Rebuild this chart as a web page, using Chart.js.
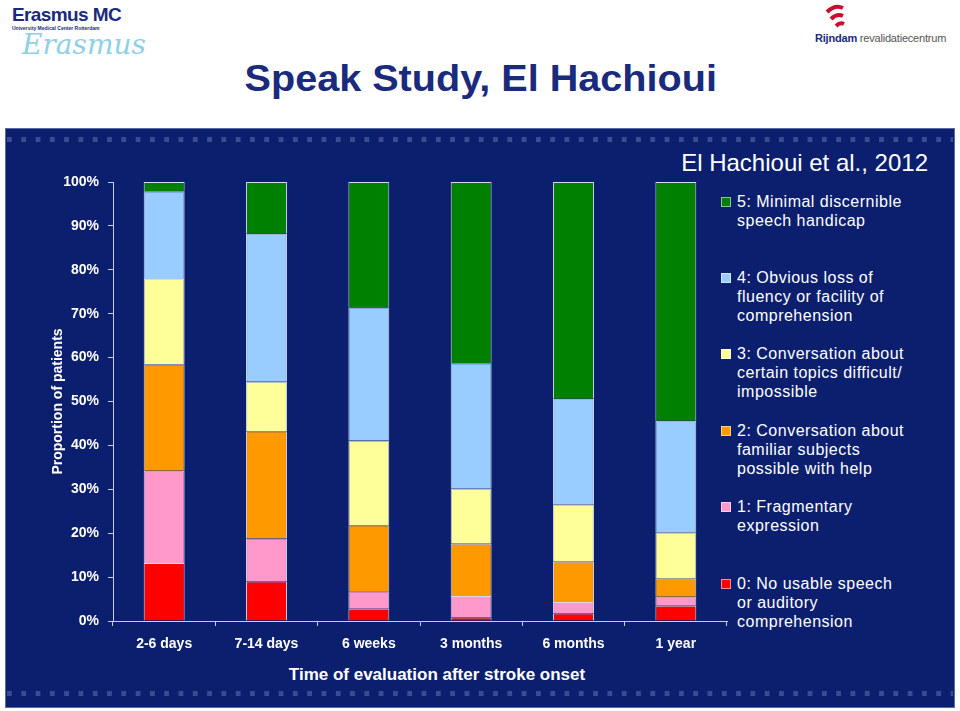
<!DOCTYPE html>
<html>
<head>
<meta charset="utf-8">
<script src="https://cdn.jsdelivr.net/npm/chart.js@4/dist/chart.umd.min.js"></script>
<style>
  body { margin: 0; width: 960px; height: 711px; background: #fff; font-family: "Liberation Sans", Arial, sans-serif; position: relative; overflow: hidden; }
  .abs { position: absolute; }
  #panel { left: 5px; top: 128px; width: 950px; height: 580px; background: #0c1f6e; border: 1px solid #5b6aa8; box-sizing: border-box; }
  .dots { left: 7px; width: 946px; height: 5px; background-image: linear-gradient(90deg, #3b4b93 5px, transparent 5px); background-size: 14.3px 5px; }
  #title { left: 0; width: 962px; top: 61px; text-align: center; font-size: 36px; line-height: 36px; font-weight: bold; color: #1a2a7c; }
  #title span { display: inline-block; transform: scaleX(1.1); }
  #cite { right: 32px; top: 149px; font-size: 24px; line-height: 28px; color: #fff; }
  #xtitle { left: 237px; width: 400px; top: 664px; text-align: center; font-size: 17px; line-height: 22px; font-weight: bold; color: #fff; }
  #legend .item { position: absolute; left: 721px; width: 230px; }
  #legend .sw { position: absolute; left: 0; top: 5px; width: 10px; height: 10px; box-sizing: border-box; border: 1px solid rgba(255,255,255,0.55); }
  #legend .txt { position: absolute; left: 16px; font-size: 16px; line-height: 19px; letter-spacing: 0.5px; color: #fff; white-space: nowrap; }
  #erasmus { left: 12px; top: 5px; color: #1a2a7c; }
  #rijndam { left: 815px; top: 2px; }
</style>
</head>
<body>
<div id="panel" class="abs"></div>
<div class="abs dots" style="top:137px"></div>
<div class="abs dots" style="top:691px"></div>

<div id="erasmus" class="abs">
  <div style="font-size:19px;font-weight:bold;letter-spacing:-0.6px;line-height:20px;">Erasmus MC</div>
  <div style="font-size:5px;font-weight:bold;line-height:6px;">University Medical Center Rotterdam</div>
  <div style="font-family:'DejaVu Serif',serif;font-style:italic;font-size:28px;line-height:28px;color:#8fd0e8;margin-left:10px;">Erasmus</div>
</div>
<div id="rijndam" class="abs">
  <svg width="40" height="28" style="position:absolute;left:6px;top:0">
    <path d="M6 10 Q14 2 22 6" stroke="#c8102e" stroke-width="4" fill="none"/>
    <path d="M10 17 Q16 11 22 14" stroke="#c8102e" stroke-width="4" fill="none"/>
    <path d="M15 24 Q19 20 23 22" stroke="#c8102e" stroke-width="4" fill="none"/>
  </svg>
  <div style="position:absolute;top:30px;white-space:nowrap;font-size:11px;letter-spacing:-0.2px;color:#1a2a7c;"><b>Rijndam</b> <span style="color:#555">revalidatiecentrum</span></div>
</div>

<div id="title" class="abs"><span>Speak Study, El Hachioui</span></div>
<div id="cite" class="abs">El Hachioui et al., 2012</div>
<div id="xtitle" class="abs">Time of evaluation after stroke onset</div>
<div id="legend" class="abs" style="left:0;top:0"></div>

<canvas id="chart" class="abs" width="960" height="711" style="left:0;top:0"></canvas>

<script>
// categories along x
const categories = ['2-6 days', '7-14 days', '6 weeks', '3 months', '6 months', '1 year'];

// percentage of patients per score (bottom to top)
const score0 = [13.2, 9.0, 2.8, 0.8, 1.7, 3.5];
const score1 = [21.0, 9.8, 4.0, 4.9, 2.6, 2.0];
const score2 = [24.3, 24.4, 15.0, 11.9, 9.2, 4.1];
const score3 = [19.4, 11.3, 19.3, 12.5, 13.1, 10.6];
const score4 = [20.0, 33.7, 30.3, 28.6, 24.0, 25.4];
const score5 = [2.1, 11.8, 28.6, 41.3, 49.4, 54.4];

const seriesLabels = [
    ['0: No usable speech', 'or auditory', 'comprehension'],
    ['1: Fragmentary', 'expression'],
    ['2: Conversation about', 'familiar subjects', 'possible with help'],
    ['3: Conversation about', 'certain topics difficult/', 'impossible'],
    ['4: Obvious loss of', 'fluency or facility of', 'comprehension'],
    ['5: Minimal discernible', 'speech handicap']
];
const seriesColors = ['#ff0000', '#ff99cc', '#ff9900', '#ffff99', '#99ccff', '#008000'];
const yTicks = [0, 10, 20, 30, 40, 50, 60, 70, 80, 90, 100];

const allScores = [score0, score1, score2, score3, score4, score5];
const font = '"Liberation Sans", Arial, sans-serif';
const axisColor = '#c9cde2';

const datasets = allScores.map((vals, i) => ({
    label: seriesLabels[i].join(' '),
    data: vals,
    backgroundColor: seriesColors[i],
    borderColor: 'rgba(235,238,248,0.9)',
    borderWidth: 1,
    barPercentage: 0.4,
    categoryPercentage: 1.0
}));

new Chart(document.getElementById('chart'), {
    type: 'bar',
    data: { labels: categories, datasets: datasets },
    options: {
        responsive: false,
        animation: false,
        layout: { padding: { left: 50, top: 182, right: 233, bottom: 60 } },
        plugins: { legend: { display: false }, tooltip: { enabled: false } },
        scales: {
            x: {
                stacked: true,
                afterFit: (s) => { s.height = 30; },
                grid: { drawOnChartArea: false, drawTicks: true, tickLength: 5, color: axisColor },
                border: { color: axisColor, width: 1 },
                ticks: { color: '#fff', padding: 10, font: { family: font, size: 14, weight: 'bold' } }
            },
            y: {
                stacked: true,
                min: 0,
                max: 100,
                afterFit: (s) => { s.width = 63; },
                afterBuildTicks: (s) => { s.ticks = yTicks.map(v => ({ value: v })); },
                grid: { drawOnChartArea: false, drawTicks: true, tickLength: 5, color: axisColor },
                border: { color: axisColor, width: 1 },
                ticks: {
                    color: '#fff', padding: 9,
                    font: { family: font, size: 14, weight: 'bold' },
                    callback: (v) => v + '%'
                },
                title: {
                    display: true, text: 'Proportion of patients', color: '#fff', padding: 0,
                    font: { family: font, size: 14, weight: 'bold' }
                }
            }
        }
    }
});

// legend, top entry is the highest score
const legend = document.getElementById('legend');
const firstTop = 191.5, step = 76.4;
for (let k = 0; k < 6; k++) {
    const i = 5 - k;
    const item = document.createElement('div');
    item.className = 'item';
    item.style.top = (firstTop + k * step) + 'px';
    const sw = document.createElement('div');
    sw.className = 'sw';
    sw.style.background = seriesColors[i];
    const txt = document.createElement('div');
    txt.className = 'txt';
    txt.innerHTML = seriesLabels[i].join('<br>');
    item.appendChild(sw);
    item.appendChild(txt);
    legend.appendChild(item);
}
</script>
</body>
</html>
